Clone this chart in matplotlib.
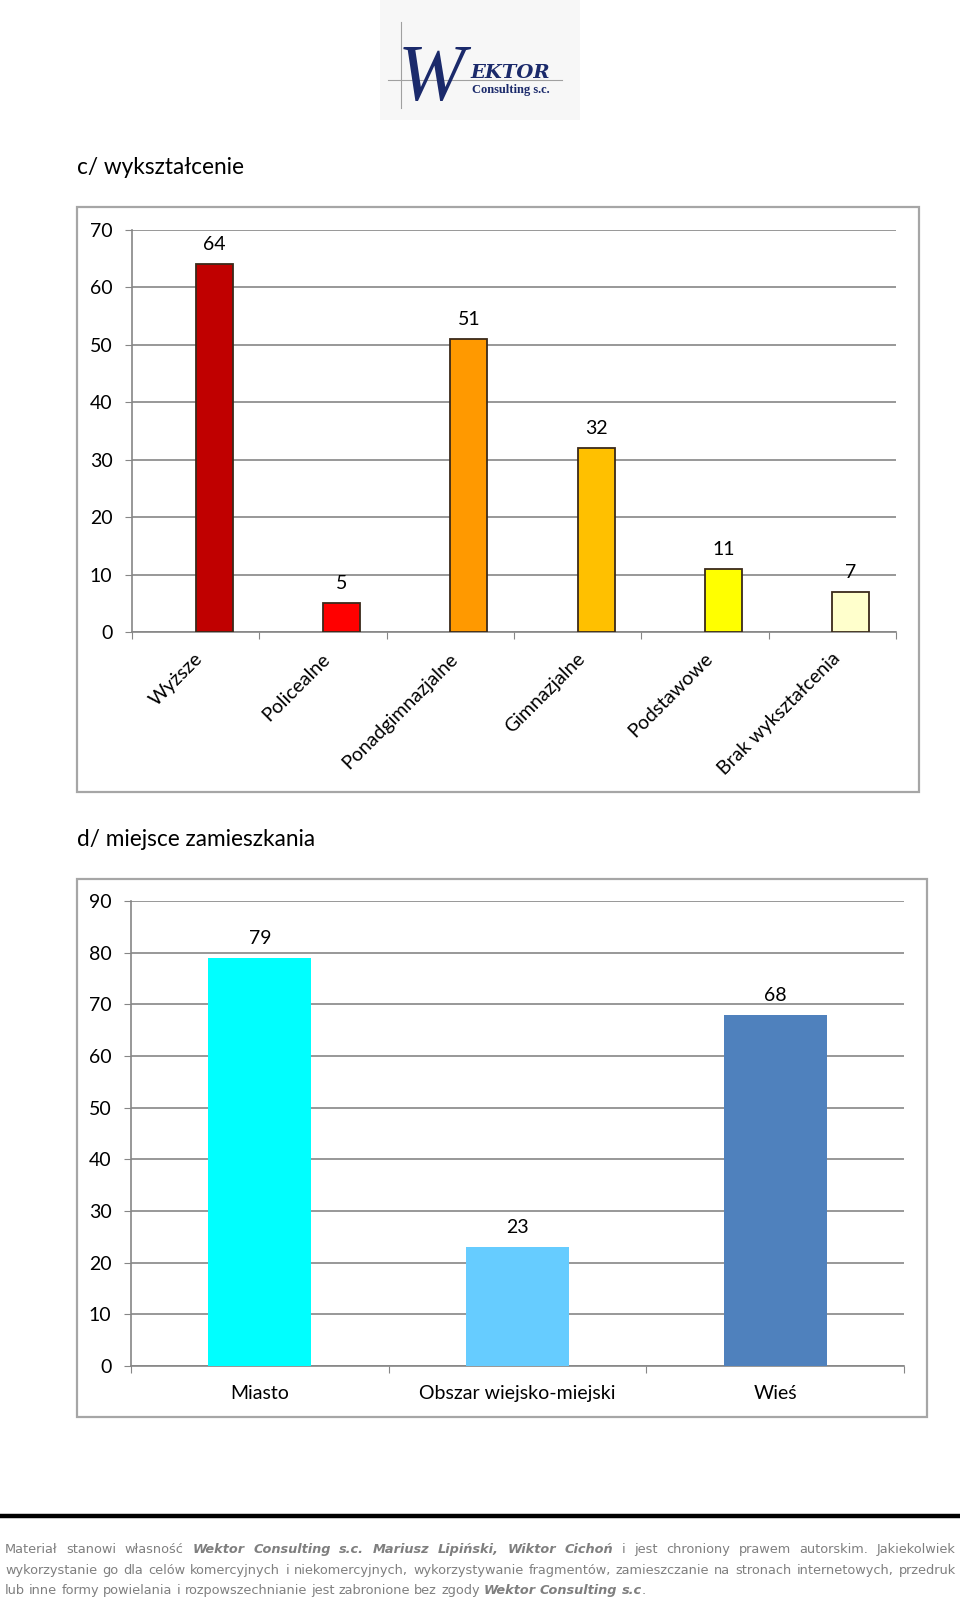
import matplotlib
matplotlib.use("Agg")
import matplotlib.pyplot as plt
from matplotlib.patches import Rectangle
from matplotlib.lines import Line2D

# data
edu_labels = ["Wyższe", "Policealne", "Ponadgimnazjalne", "Gimnazjalne", "Podstawowe", "Brak wykształcenia"]
edu_values = [64, 5, 51, 32, 11, 7]
edu_colors = ["#C00000", "#FF0000", "#FF9900", "#FFC000", "#FFFF00", "#FFFFCC"]
edu_yticks = [0, 10, 20, 30, 40, 50, 60, 70]

place_labels = ["Miasto", "Obszar wiejsko-miejski", "Wieś"]
place_values = [79, 23, 68]
place_colors = ["#00FFFF", "#66CCFF", "#4F81BD"]
place_yticks = [0, 10, 20, 30, 40, 50, 60, 70, 80, 90]

W, H = 960, 1601
FONT = "Lato"
GRID = "#868686"
LABEL_SIZE = 14

plt.rcParams["font.family"] = [FONT, "DejaVu Sans"]

fig = plt.figure(figsize=(W / 100, H / 100), dpi=100)


def fx(x):
    return x / W


def fy(y):
    return 1 - y / H


def pix_axes(left, top, right, bottom):
    return fig.add_axes([fx(left), fy(bottom), (right - left) / W, (bottom - top) / H])


def style_axes(ax, n, yticks):
    ax.set_xlim(-0.5, n - 0.5)
    ax.set_ylim(yticks[0], yticks[-1])
    ax.set_yticks(yticks)
    ax.set_xticks([i - 0.5 for i in range(n + 1)])
    ax.set_xticklabels([])
    for s in ["top", "right"]:
        ax.spines[s].set_visible(False)
    for s in ["left", "bottom"]:
        ax.spines[s].set_color(GRID)
        ax.spines[s].set_linewidth(1.2)
    ax.tick_params(axis="y", length=5, color=GRID, labelsize=LABEL_SIZE, pad=9)
    ax.tick_params(axis="x", length=5, color=GRID)
    ax.grid(axis="y", color=GRID, linewidth=1.2)
    ax.set_axisbelow(True)


def frame(left, top, right, bottom):
    fig.add_artist(Rectangle((fx(left), fy(bottom)), (right - left) / W, (bottom - top) / H,
                             transform=fig.transFigure, fill=False, edgecolor="#A6A6A6", linewidth=1.6))


# --- logo ---
fig.add_artist(Rectangle((fx(380), fy(120)), 200 / W, 120 / H, transform=fig.transFigure,
                         facecolor="#F7F7F7", edgecolor="none"))
fig.add_artist(Line2D([fx(401), fx(401)], [fy(22), fy(108)], color="#A0A0A0", linewidth=0.8))
fig.add_artist(Line2D([fx(388), fx(562)], [fy(80), fy(80)], color="#A0A0A0", linewidth=0.8))
fig.text(fx(398), fy(100), "W", fontsize=58, family="Liberation Serif", style="italic",
         color="#1B2A6B", ha="left", va="baseline")
fig.text(fx(470), fy(78), "EKTOR", fontsize=14, family="DejaVu Serif", weight="bold", style="italic",
         color="#1B2A6B", ha="left", va="baseline")
fig.text(fx(472), fy(93), "Consulting s.c.", fontsize=9, family="Liberation Serif", weight="bold",
         color="#1B2A6B", ha="left", va="baseline")

# --- c/ wyksztalcenie ---
fig.text(fx(77), fy(167), "c/ wykształcenie", fontsize=16.3, va="center", ha="left")
frame(77, 207, 919, 792)

ax1 = pix_axes(132, 230, 896, 632)
style_axes(ax1, len(edu_values), edu_yticks)
x1 = list(range(len(edu_values)))
# bars start at the category centre, as in the original sheet
ax1.bar(x1, edu_values, width=0.29, align="edge", color=edu_colors,
        edgecolor="#3A2A1A", linewidth=1.3, zorder=3)
for i, v in enumerate(edu_values):
    ax1.annotate(str(v), xy=(i + 0.145, v), xytext=(0, 8), textcoords="offset points",
                 ha="center", va="bottom", fontsize=LABEL_SIZE)
for i, lab in enumerate(edu_labels):
    ax1.annotate(lab, xy=(i, 0), xytext=(-1, -13), textcoords="offset points",
                 rotation=45, rotation_mode="anchor", ha="right", va="top", fontsize=LABEL_SIZE,
                 annotation_clip=False)

# --- d/ miejsce zamieszkania ---
fig.text(fx(77), fy(839), "d/ miejsce zamieszkania", fontsize=16.3, va="center", ha="left")
frame(77, 879, 927, 1417)

ax2 = pix_axes(131, 901, 904, 1366)
style_axes(ax2, len(place_values), place_yticks)
x2 = list(range(len(place_values)))
ax2.bar(x2, place_values, width=0.40, color=place_colors, zorder=3)
ax2.set_xticks(x2, minor=True)
ax2.set_xticklabels(place_labels, minor=True, fontsize=LABEL_SIZE)
ax2.tick_params(axis="x", which="minor", length=0, pad=14)
for i, v in enumerate(place_values):
    ax2.annotate(str(v), xy=(i, v), xytext=(0, 8), textcoords="offset points",
                 ha="center", va="bottom", fontsize=LABEL_SIZE)

# --- footer ---
fig.add_artist(Line2D([0, 1], [fy(1516), fy(1516)], color="black", linewidth=3.2))

FOOT_FAMILY = "DejaVu Sans"
FOOT_COLOR = "#7F7F7F"
renderer = fig.canvas.get_renderer()


def word_width(word, bi, size):
    t = fig.text(0, 0, word, fontsize=size, family=FOOT_FAMILY,
                 weight="bold" if bi else "normal", style="italic" if bi else "normal")
    w = t.get_window_extent(renderer).width
    t.remove()
    return w


line3_plain = "lub inne formy powielania i rozpowszechnianie jest zabronione bez zgody"
# pick the size so the plain part of the last line is as long as in the original
FOOT_SIZE = 10 * 472 / word_width(line3_plain, False, 10)


def put_word(x, y, word, bi):
    fig.text(fx(x), fy(y), word, fontsize=FOOT_SIZE, family=FOOT_FAMILY, color=FOOT_COLOR,
             weight="bold" if bi else "normal", style="italic" if bi else "normal",
             ha="left", va="baseline")


def footer_line(parts, y, x0=5, x1=956, justify=True):
    words = []
    for text, bi in parts:
        for w in text.split():
            words.append((w, bi))
    widths = [word_width(w, bi, FOOT_SIZE) for w, bi in words]
    space = word_width("a b", False, FOOT_SIZE) - word_width("ab", False, FOOT_SIZE)
    gap = space
    if justify:
        gap = max((x1 - x0 - sum(widths)) / (len(words) - 1), 2)
    x = x0
    for (w, bi), wd in zip(words, widths):
        put_word(x, y, w, bi)
        x += wd + gap
    return x - gap


footer_line([("Materiał stanowi własność", False),
             ("Wektor Consulting s.c. Mariusz Lipiński, Wiktor Cichoń", True),
             ("i jest chroniony prawem autorskim. Jakiekolwiek", False)], 1553)
footer_line([("wykorzystanie go dla celów komercyjnych i niekomercyjnych, wykorzystywanie "
              "fragmentów, zamieszczanie na stronach internetowych, przedruk", False)], 1574)
end = footer_line([(line3_plain, False),
                   ("Wektor Consulting s.c", True)], 1594, justify=False)
put_word(end, 1594, ".", False)

fig.savefig("out.png", dpi=100)
